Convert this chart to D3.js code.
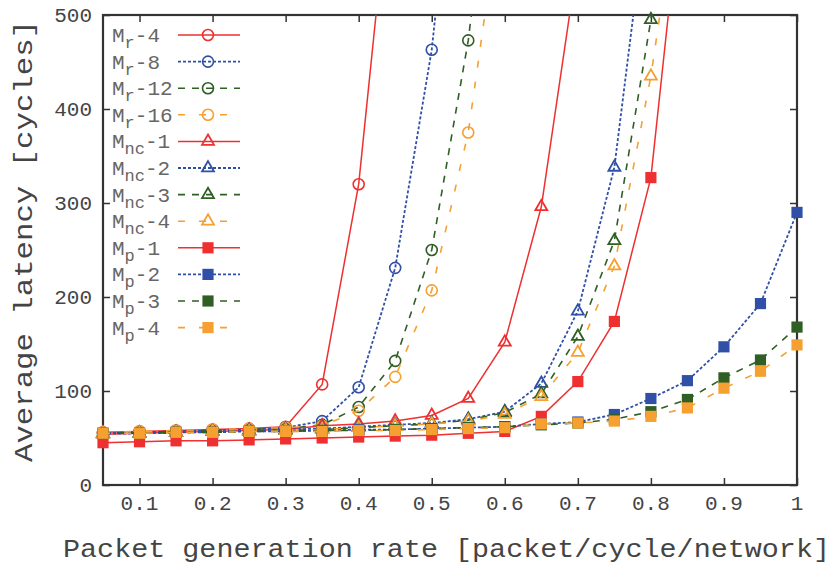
<!DOCTYPE html>
<html>
<head>
<meta charset="utf-8">
<script src="https://cdn.jsdelivr.net/npm/d3@7"></script>
<style>
  body { margin: 0; background: #fff; }
  text { font-family: "Liberation Mono", "DejaVu Sans Mono", monospace; }
</style>
</head>
<body>
<svg id="chart" width="834" height="569"></svg>
<script>
// packet generation rates (x values shared by all series)
var rates = [0.05, 0.1, 0.15, 0.2, 0.25, 0.3, 0.35, 0.4, 0.45, 0.5,
             0.55, 0.6, 0.65, 0.7, 0.75, 0.8, 0.85, 0.9, 0.95, 1.0];

// latency values (points above 500 run off the top)
var mr4  = [56, 57, 58, 59, 60, 62, 107, 320, 700];
var mr8  = [55, 56, 57, 58, 59, 61, 68, 104, 231, 463, 830];
var mr12 = [55, 56, 57, 58, 59, 60, 64, 83, 132, 250, 473, 800];
var mr16 = [56, 57, 58, 59, 60, 61, 63, 79, 115, 207, 375, 650];
var mnc1 = [54, 55, 56, 57, 58, 59, 63, 65, 68, 74, 92, 152, 296, 560];
var mnc2 = [55, 55, 56, 57, 58, 59, 60, 62, 64, 66, 70, 78, 108, 185, 338, 650];
var mnc3 = [55, 55, 56, 57, 57, 58, 59, 61, 63, 65, 69, 77, 97, 158, 260, 495, 800];
var mnc4 = [55, 55, 56, 57, 57, 58, 59, 61, 63, 65, 68, 75, 94, 141, 233, 435, 700];
var mp1  = [45, 46, 47, 47, 48, 49, 50, 51, 52, 53, 55, 57, 73, 110, 174, 327, 690];
var mp2  = [55, 55, 56, 56, 57, 57, 58, 59, 59, 60, 61, 62, 65, 67, 75, 92, 111, 147, 193, 290];
var mp3  = [55, 55, 56, 56, 57, 57, 58, 58, 59, 60, 61, 62, 64, 66, 70, 78, 91, 114, 133, 168];
var mp4  = [55, 55, 56, 56, 57, 57, 57, 58, 58, 59, 60, 61, 65, 66, 68, 73, 82, 103, 121, 149];

var xTicks = [0.1, 0.2, 0.3, 0.4, 0.5, 0.6, 0.7, 0.8, 0.9, 1];
var yTicks = [0, 100, 200, 300, 400, 500];

var series = [
  {base: "M", sub: "r",  num: "4",  kind: 1, shape: "circle",   values: mr4},
  {base: "M", sub: "r",  num: "8",  kind: 2, shape: "circle",   values: mr8},
  {base: "M", sub: "r",  num: "12", kind: 3, shape: "circle",   values: mr12},
  {base: "M", sub: "r",  num: "16", kind: 4, shape: "circle",   values: mr16},
  {base: "M", sub: "nc", num: "1",  kind: 1, shape: "triangle", values: mnc1},
  {base: "M", sub: "nc", num: "2",  kind: 2, shape: "triangle", values: mnc2},
  {base: "M", sub: "nc", num: "3",  kind: 3, shape: "triangle", values: mnc3},
  {base: "M", sub: "nc", num: "4",  kind: 4, shape: "triangle", values: mnc4},
  {base: "M", sub: "p",  num: "1",  kind: 1, shape: "square",   values: mp1},
  {base: "M", sub: "p",  num: "2",  kind: 2, shape: "square",   values: mp2},
  {base: "M", sub: "p",  num: "3",  kind: 3, shape: "square",   values: mp3},
  {base: "M", sub: "p",  num: "4",  kind: 4, shape: "square",   values: mp4}
];

// line style per variant number
var styles = {
  1: {color: "#ee3030", dash: null,   width: 1.5},
  2: {color: "#3050a8", dash: "3,2",  width: 1.8},
  3: {color: "#2f5f25", dash: "7,7",  width: 1.6},
  4: {color: "#f5a030", dash: "7,14", width: 1.6}
};

var margin = {top: 15, right: 37, bottom: 84, left: 103};
var width = 834 - margin.left - margin.right;
var height = 569 - margin.top - margin.bottom;

var svg = d3.select("#chart");
var g = svg.append("g")
  .attr("transform", "translate(" + margin.left + "," + margin.top + ")");

var x = d3.scaleLinear().domain([0.05, 1]).range([0, width]);
var y = d3.scaleLinear().domain([0, 500]).range([height, 0]);

g.append("clipPath").attr("id", "clip")
  .append("rect").attr("width", width).attr("height", height);

// ticks pointing inward on all four sides (gnuplot style)
var axisColor = "#333";
var tl = 7;
g.append("g").attr("transform", "translate(0," + height + ")")
  .call(d3.axisBottom(x).tickValues(xTicks).tickSize(-tl).tickFormat(""));
g.append("g")
  .call(d3.axisTop(x).tickValues(xTicks).tickSize(-tl).tickFormat(""));
g.append("g")
  .call(d3.axisLeft(y).tickValues(yTicks).tickSize(-tl).tickFormat(""));
g.append("g").attr("transform", "translate(" + width + ",0)")
  .call(d3.axisRight(y).tickValues(yTicks).tickSize(-tl).tickFormat(""));
g.selectAll(".domain").remove();
g.selectAll(".tick line").attr("stroke", axisColor).attr("stroke-width", 1.5);

g.append("rect")
  .attr("width", width).attr("height", height)
  .attr("fill", "none").attr("stroke", axisColor).attr("stroke-width", 2.2);

// tick labels
g.selectAll(".xlab").data(xTicks).enter().append("text")
  .attr("x", function(d) { return x(d); })
  .attr("y", height + 25)
  .attr("text-anchor", "middle")
  .attr("font-size", 21).attr("fill", "#444")
  .text(function(d) { return d; });

g.selectAll(".ylab").data(yTicks).enter().append("text")
  .attr("x", -11)
  .attr("y", function(d) { return y(d) + 7; })
  .attr("text-anchor", "end")
  .attr("font-size", 21).attr("fill", "#444")
  .text(function(d) { return d; });

// axis titles
svg.append("text")
  .attr("x", 63).attr("y", 557)
  .attr("font-size", 25).attr("fill", "#444")
  .attr("textLength", 767).attr("lengthAdjust", "spacingAndGlyphs")
  .text("Packet generation rate [packet/cycle/network]");

svg.append("text")
  .attr("transform", "translate(32,462) rotate(-90)")
  .attr("font-size", 25).attr("fill", "#444")
  .attr("textLength", 442).attr("lengthAdjust", "spacingAndGlyphs")
  .text("Average latency [cycles]");

var line = d3.line()
  .x(function(d) { return x(d.r); })
  .y(function(d) { return y(d.v); });

function drawMarker(sel, shape, st) {
  if (shape === "circle") {
    sel.append("circle").attr("r", 5.5)
      .attr("fill", "none").attr("stroke", st.color).attr("stroke-width", 1.6);
  } else if (shape === "triangle") {
    sel.append("path").attr("d", d3.symbol().type(d3.symbolTriangle).size(62)())
      .attr("fill", "none").attr("stroke", st.color).attr("stroke-width", 1.8);
  } else {
    sel.append("path").attr("d", d3.symbol().type(d3.symbolSquare).size(125)())
      .attr("fill", st.color);
  }
}

series.forEach(function(s) {
  var st = styles[s.kind];
  var pts = s.values.map(function(v, i) { return {r: rates[i], v: v}; });
  g.append("path")
    .datum(pts)
    .attr("clip-path", "url(#clip)")
    .attr("fill", "none")
    .attr("stroke", st.color)
    .attr("stroke-width", st.width)
    .attr("stroke-dasharray", st.dash)
    .attr("d", line);
  var m = g.append("g").selectAll("g")
    .data(pts.filter(function(p) { return p.v <= 500; }))
    .enter().append("g")
    .attr("transform", function(d) { return "translate(" + x(d.r) + "," + y(d.v) + ")"; });
  drawMarker(m, s.shape, st);
});

// legend
var legend = svg.append("g").selectAll("g")
  .data(series).enter().append("g")
  .attr("transform", function(d, i) { return "translate(0," + (35 + i * 26.6) + ")"; });

legend.each(function(s) {
  var st = styles[s.kind];
  var lg = d3.select(this);
  var t = lg.append("text").attr("x", 112).attr("y", 7)
    .attr("font-size", 21).attr("fill", "#666");
  t.append("tspan").text(s.base);
  t.append("tspan").attr("dy", 6).attr("font-size", 17).text(s.sub);
  t.append("tspan").attr("dy", -6).text("-" + s.num);
  lg.append("line")
    .attr("x1", 178).attr("x2", 240)
    .attr("stroke", st.color)
    .attr("stroke-width", st.width)
    .attr("stroke-dasharray", st.dash);
  var mk = lg.append("g").attr("transform", "translate(208,0)");
  drawMarker(mk, s.shape, st);
});
</script>
</body>
</html>
